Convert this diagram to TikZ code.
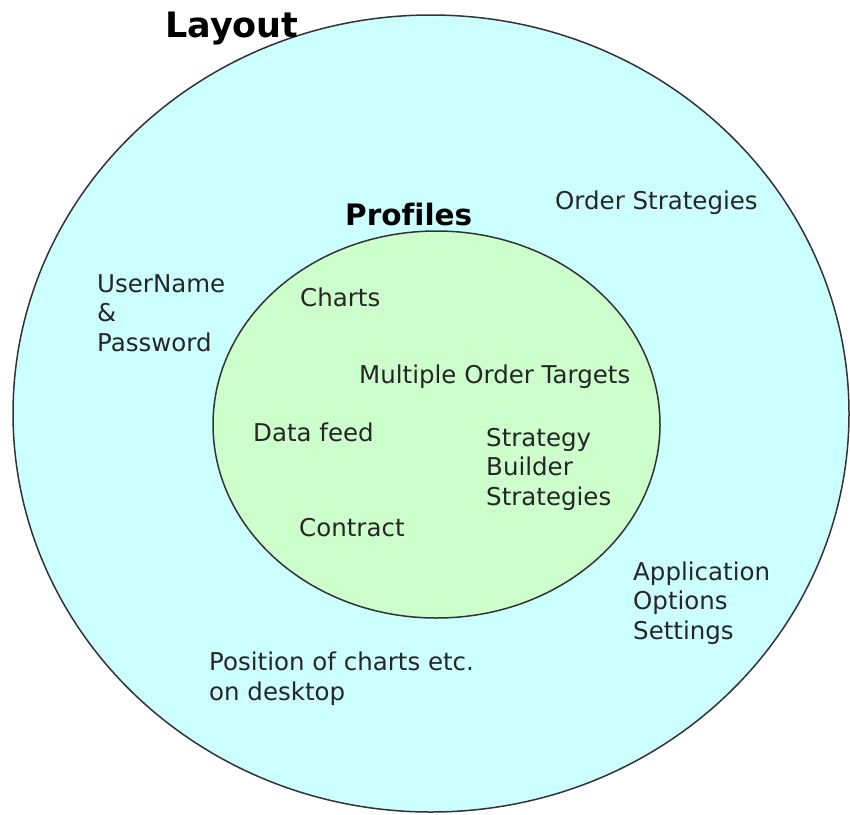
\documentclass[tikz,border=0pt]{standalone}
\usepackage{fontspec}
\setmainfont[Ligatures=CommonOff]{DejaVu Sans}
\begin{document}
\begin{tikzpicture}[x=1pt,y=-1pt,
    every node/.style={inner sep=0pt, anchor=base west, align=left, text=black!85},
    label/.style={font=\fontsize{24.5}{29.5}\selectfont},
    title/.style={font=\fontsize{35}{40}\selectfont\bfseries, text=black}]
    % Define colors
    \definecolor{layoutcolor}{RGB}{204,255,255} % light cyan
    \definecolor{profilecolor}{RGB}{204,255,204} % light green
    \useasboundingbox (0,0) rectangle (850,814);

    % Draw background
    \draw[fill=layoutcolor, draw=black!80, line width=1.5pt] (431,413.5) ellipse [x radius=418, y radius=398.5];
    \draw[fill=profilecolor, draw=black!80, line width=1.5pt] (436.5,424.5) ellipse [x radius=223.5, y radius=193.5];

    % Titles (multi-line nodes sit on their last line)
    \node[title] (layout) at (165,37) {Layout};
    \node[title, font=\fontsize{29.5}{34}\selectfont\bfseries] (profiles) at (345,225) {Prof\kern0pt iles};

    % Outer labels
    \node[label] (order) at (555,209) {Order Strategies};
    \node[label] (user) at (97,351) {UserName\\\&\\Password};
    \node[label] (appl) at (633,639) {Application\\Options\\Settings};
    \node[label] (position) at (209,700) {Position of charts etc.\\on desktop};

    % Inner labels
    \node[label] (charts) at (300,306) {Charts};
    \node[label] (targets) at (359,383) {Multiple Order Targets};
    \node[label] (feed) at (253,441) {Data feed};
    \node[label] (builder) at (486,505) {Strategy\\Builder\\Strategies};
    \node[label] (contract) at (299,536) {Contract};
\end{tikzpicture}
\end{document}
